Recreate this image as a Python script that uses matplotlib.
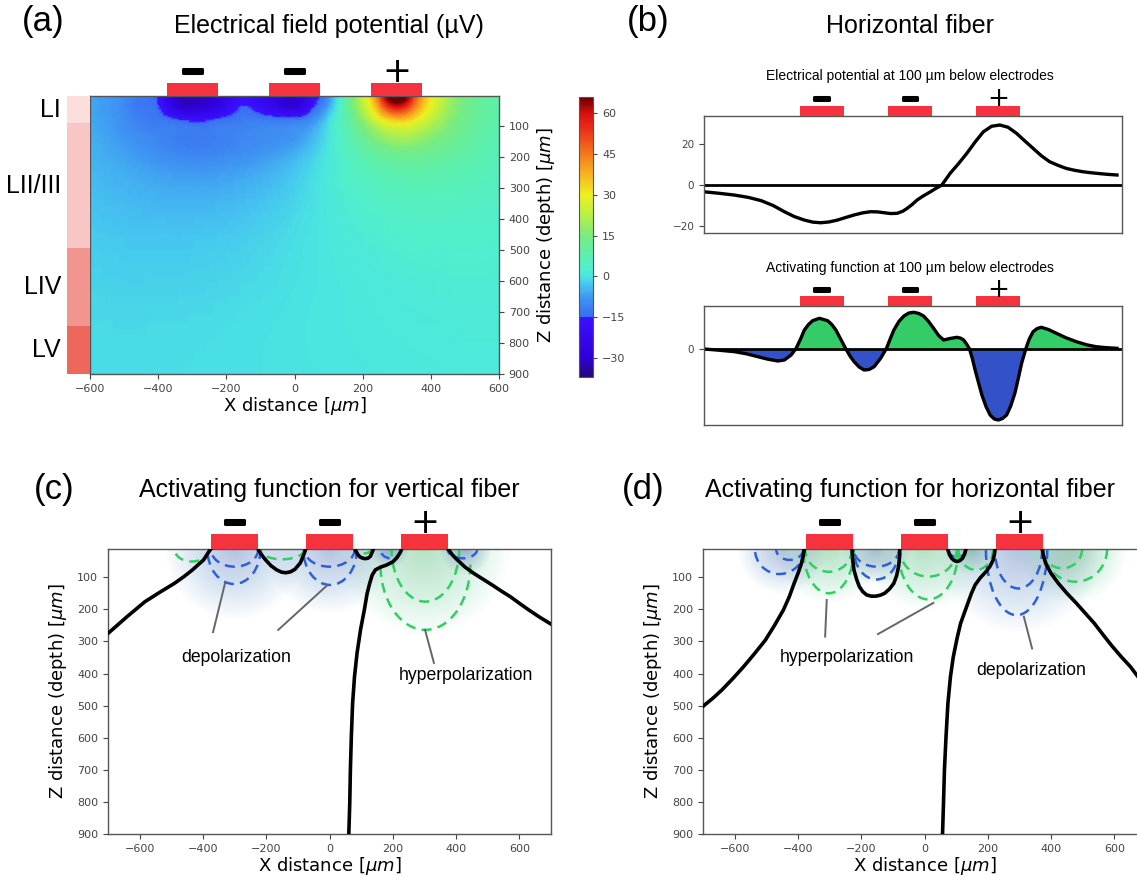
import matplotlib
matplotlib.use('Agg')
import matplotlib.pyplot as plt
import matplotlib.transforms as mtransforms
import matplotlib.patheffects as pe
import matplotlib.tri as mtri
from matplotlib.colors import LinearSegmentedColormap
from matplotlib.patches import Rectangle, Arc, Ellipse
import numpy as np

W, H = 1137, 877
RED = '#f5333f'
BLUE = '#2f5fd6'
GREEN = '#2fd060'
SANS = 'Liberation Sans'

# electrodes (um)
elec_x = [-300, 0, 300]
elec_sign = ['\u2212', '\u2212', '+']
elec_w = 150

# (a) potential field, uV (rows = depth, cols = x)
grid_x = [-600, -550, -500, -450, -400, -350, -300, -250, -200, -150, -100, -50, 0,
          50, 100, 150, 200, 250, 300, 350, 400, 450, 500, 550, 600]
grid_z = [0, 40, 80, 130, 200, 300, 450, 650, 900]
field_uv = [
    [-6.1, -7.6, -9.7, -13.1, -16.5, -30, -30, -30, -22.5, -18.5, -20.5, -27.7, -30,
     -20.3, -9.0, 9.2, 24.6, 50.3, 78.2, 53.3, 31.2, 20.3, 14.4, 10.8, 8.5],
    [-6.0, -7.4, -9.5, -12.7, -14.5, -26.9, -30, -28.0, -20.5, -14.5, -18.4, -23.6, -27.6,
     -16.4, -6.0, 8.8, 22.5, 42.2, 58.7, 45.2, 28.9, 19.5, 14.0, 10.6, 8.4],
    [-5.8, -7.1, -8.9, -11.5, -12.5, -14.5, -16.5, -15.8, -13.5, -12.0, -12.0, -13.0, -13.0,
     -9.5, -1.5, 7.7, 18.0, 29.4, 36.5, 32.2, 23.9, 17.4, 13.0, 10.1, 8.0],
    [-5.5, -6.5, -8.0, -9.5, -10.5, -11.5, -12.0, -11.8, -11.0, -10.0, -9.5, -9.0, -8.0,
     -5.0, 0.0, 6.2, 12.6, 18.4, 21.7, 20.9, 17.6, 14.1, 11.3, 9.1, 7.4],
    [-4.8, -5.6, -6.5, -7.5, -8.6, -9.5, -9.9, -9.8, -9.2, -8.5, -7.6, -6.4, -4.7,
     -2.2, 0.8, 4.2, 7.6, 10.3, 12.0, 12.3, 11.5, 10.1, 8.7, 7.4, 6.3],
    [-3.8, -4.3, -4.7, -5.2, -5.6, -5.8, -5.9, -5.8, -5.5, -4.9, -4.2, -3.3, -2.1,
     -0.7, 0.8, 2.5, 4.0, 5.3, 6.1, 6.6, 6.6, 6.3, 5.8, 5.3, 4.8],
    [-2.6, -2.8, -3.0, -3.1, -3.1, -3.2, -3.1, -2.9, -2.7, -2.4, -1.9, -1.4, -0.8,
     -0.2, 0.5, 1.2, 1.8, 2.3, 2.8, 3.1, 3.3, 3.3, 3.3, 3.2, 3.0],
    [-1.6, -1.6, -1.7, -1.7, -1.6, -1.6, -1.5, -1.4, -1.2, -1.0, -0.8, -0.6, -0.3,
     0.0, 0.2, 0.5, 0.8, 1.0, 1.2, 1.4, 1.5, 1.6, 1.7, 1.7, 1.7],
    [-0.9, -0.9, -0.9, -0.8, -0.8, -0.8, -0.7, -0.6, -0.5, -0.5, -0.4, -0.2, -0.1,
     0.0, 0.1, 0.2, 0.3, 0.4, 0.5, 0.6, 0.7, 0.8, 0.8, 0.9, 0.9],
]
cbar_ticks = [-30, -15, 0, 15, 30, 45, 60]

layer_names = ['LI', 'LII/III', 'LIV', 'LV']
layer_top = [5, 93, 494, 746]
layer_bottom = [93, 494, 746, 900]
layer_colors = ['#fcdedc', '#f8c6c4', '#f3958f', '#ee675d']

# (b) potential and activating function at 100 um depth
pot_x = [-699, -650, -596, -550, -506, -465, -427, -393, -359, -330, -303, -275, -247, -218,
         -190, -162, -134, -110, -89, -66, -44, -25, -10, 7, 24, 45, 69, 88, 108, 136, 165,
         193, 221, 249, 277, 305, 333, 362, 390, 418, 446, 474, 503, 531, 559, 587, 615, 643,
         673, 703]
pot_uv = [-3.3, -4.0, -4.9, -6.0, -7.6, -10.0, -13.0, -15.4, -17.1, -18.1, -18.4, -18.0, -17.1,
          -15.8, -14.6, -13.6, -13.0, -13.1, -13.5, -13.9, -13.8, -12.8, -11.4, -9.5, -7.3,
          -5.3, -3.3, -1.6, 0.0, 5.7, 10.5, 15.5, 21.0, 26.0, 28.7, 29.3, 28.2, 25.2, 21.5,
          17.9, 14.3, 11.4, 9.6, 8.1, 7.2, 6.5, 6.0, 5.6, 5.2, 4.9]
act_x = [-699, -650, -596, -556, -517, -483, -449, -427, -404, -387, -372, -359, -345, -331,
         -308, -280, -266, -252, -235, -218, -204, -190, -173, -156, -139, -122, -100, -80,
         -67, -55, -38, -21, -4, 13, 30, 46, 63, 80, 97, 114, 136, 159, 172, 182, 193, 202,
         212, 221, 232, 244, 258, 272, 286, 300, 314, 328, 342, 356, 368, 379, 393, 405, 418,
         432, 446, 470, 497, 530, 565, 600, 632, 668, 703]
act_val = [0, -1.2, -2.7, -4.8, -7.7, -10.2, -12, -11, -6, 0.7, 10, 19, 24.5, 28.3,
           30.7, 28.3, 24.5, 19, 9.5, 0, -7, -12.7, -18, -21, -20.5, -17.7, -9.3, 0.7,
           10.5, 19, 27.5, 33, 36, 36.7, 35.5, 33, 27.5, 20.7, 13.5, 9, 10.5, 11.7, 10.8, 9,
           4.5, 0, -10, -21, -33, -46, -57.5, -66, -70, -71, -69.5, -66, -57, -44.3, -29,
           -14.3, 0, 10, 17.3, 20.5, 21.7, 19.5, 15.7, 11.2, 7.3, 4.2, 2.3, 1.3, 0.7]

# (c) vertical fiber: zero contours [x], [z]
c_lines = [
    ([-700, -640, -583, -535, -490, -460, -433, -398, -381, -375],
     [275, 223, 176, 146, 119, 98, 77, 46, 20, 12]),
    ([-225, -213, -202, -185, -167, -152, -138, -123, -109, -92, -80, -75],
     [15, 32, 46, 64, 77, 84, 86, 83, 75, 55, 26, 12]),
    ([81, 90, 98, 110, 121, 129, 133, 139], [15, 30, 38, 42, 41, 35, 26, 12]),
    ([61, 64, 66, 69, 73, 79, 87, 98, 110, 119, 127, 135, 145, 160, 180, 200, 214, 225, 228],
     [900, 805, 701, 597, 493, 410, 337, 264, 202, 150, 119, 93, 77, 69, 62, 52, 38, 20, 12]),
    ([375, 388, 404, 428, 456, 485, 514, 543, 572, 600, 630, 665, 705],
     [12, 30, 46, 68, 88, 106, 124, 143, 161, 181, 202, 225, 249]),
]
# dashed level contours: centre x, centre z, half width, half height, colour
c_arcs = [
    (-302, 12, 84, 109, BLUE), (-300, 12, 75, 55, BLUE),
    (2, 12, 85, 112, BLUE), (0, 12, 80, 55, BLUE),
    (303, 12, 107, 164, GREEN), (303, 60, 142, 204, GREEN),
    (-435, 12, 55, 39, GREEN), (-150, 12, 72, 32, GREEN), (107, 12, 26, 14, GREEN),
    (193, 12, 32, 29, BLUE), (420, 12, 47, 29, BLUE),
]
c_glow = [(-300, 220, BLUE), (0, 200, BLUE), (300, 270, GREEN), (190, 60, BLUE), (430, 80, BLUE)]
c_notes = [('depolarization', -295, 349), ('hyperpolarization', 432, 405)]
c_pointers = [(-330, 118, -368, 271), (-6, 124, -162, 264), (302, 264, 330, 367)]

# (d) horizontal fiber
d_lines = [
    ([-701, -670, -640, -606, -572, -538, -503, -474, -446, -427, -412, -399, -389, -383, -380],
     [503, 478, 451, 416, 379, 339, 296, 250, 202, 160, 119, 86, 57, 32, 12]),
    ([-229, -227, -223, -215, -206, -195, -183, -168, -154, -140, -126, -111, -97, -88, -82, -79, -78],
     [12, 45, 77, 105, 129, 145, 155, 159, 159, 156, 150, 137, 119, 95, 67, 40, 12]),
    ([74, 79, 86, 94, 103, 112, 120, 127, 131], [15, 30, 41, 48, 51, 48, 41, 27, 12]),
    ([57, 60, 63, 68, 74, 82, 91, 103, 114, 126, 137, 148, 160, 176, 194, 207, 217, 221, 223],
     [900, 805, 701, 597, 493, 410, 348, 290, 244, 211, 181, 151, 124, 102, 83, 66, 46, 28, 12]),
    ([372, 376, 383, 400, 423, 450, 480, 508, 537, 565, 594, 622, 651, 676, 700],
     [12, 33, 57, 88, 119, 150, 181, 212, 244, 280, 316, 348, 379, 412, 445]),
]
d_arcs = [
    (-303, 12, 74, 71, GREEN), (-303, 12, 80, 138, GREEN),
    (-458, 12, 78, 78, BLUE), (-426, 12, 43, 34, BLUE),
    (-152, 12, 72, 55, BLUE), (-152, 12, 72, 95, BLUE),
    (12, 12, 90, 86, GREEN), (12, 12, 95, 157, GREEN),
    (103, 12, 28, 25, BLUE), (162, 12, 55, 65, GREEN),
    (297, 12, 75, 123, BLUE), (291, 12, 97, 206, BLUE),
    (435, 12, 63, 60, GREEN), (477, 12, 100, 102, GREEN),
]
d_glow = [(-450, 140, BLUE), (-300, 170, GREEN), (-150, 110, BLUE), (0, 190, GREEN),
          (150, 80, GREEN), (300, 260, BLUE), (470, 170, GREEN)]
d_notes = [('hyperpolarization', -246, 349), ('depolarization', 337, 392)]
d_pointers = [(-309, 171, -314, 285), (28, 180, -147, 277), (314, 223, 340, 322)]


def px_axes(fig, l, t, r, b):
    return fig.add_axes([l / W, 1 - b / H, (r - l) / W, (b - t) / H])


def style(ax):
    for s in ax.spines.values():
        s.set_color('#555555')
        s.set_linewidth(1)
    ax.tick_params(colors='#444444', labelsize=8, length=3.5, width=0.8)


def electrodes(ax, ax_h, h_px, sign_px, fs_minus, fs_plus):
    tr = mtransforms.blended_transform_factory(ax.transData, ax.transAxes)
    for x, s in zip(elec_x, elec_sign):
        ax.add_patch(Rectangle((x - elec_w / 2, 1), elec_w, h_px / ax_h, transform=tr,
                               facecolor=RED, edgecolor='none', clip_on=False, zorder=6))
        if s == '+':
            ax.text(x, 1 + sign_px / ax_h, s, transform=tr, ha='center', va='center',
                    fontsize=fs_plus, color='k', zorder=7, clip_on=False)
        else:
            ax.text(x, 1 + sign_px / ax_h, s, transform=tr, ha='center', va='center',
                    fontsize=fs_minus, fontweight='bold', color='k', zorder=7, clip_on=False,
                    path_effects=[pe.withStroke(linewidth=2.2, foreground='k')])


def fiber_panel(ax, lines, arcs, glow, notes, pointers):
    for cx, r, col in glow:
        for k in range(30):
            rr = r * (1 - k / 30)
            ax.add_patch(Ellipse((cx, 12), 2 * rr, 2 * rr, facecolor=col, edgecolor='none',
                                 alpha=0.011, zorder=1))
    for cx, cz, rx, rz, col in arcs:
        ax.add_patch(Arc((cx, cz), 2 * rx, 2 * rz, theta1=0, theta2=180, color=col, lw=1.8,
                         ls=(0, (4, 2.5)), zorder=2))
    for xs, zs in lines:
        ax.plot(xs, zs, color='k', lw=2.6, zorder=3, solid_capstyle='round',
                solid_joinstyle='round')
    for x0, z0, x1, z1 in pointers:
        ax.plot([x0, x1], [z0, z1], color='#666666', lw=1.4, zorder=3)
    for label, x, z in notes:
        ax.text(x, z, label, ha='center', va='center', fontsize=12.7, family=SANS, zorder=4)
    ax.set_xlim(-700, 700)
    ax.set_ylim(900, 12)
    ax.set_xticks(range(-600, 601, 200))
    ax.set_yticks(range(100, 901, 100))
    ax.set_xlabel('X distance [$\\mu m$]', fontsize=13, labelpad=1)
    ax.set_ylabel('Z distance (depth) [$\\mu m$]', fontsize=13, labelpad=6)
    style(ax)
    electrodes(ax, 285, 15, 26, 22, 25)


fig = plt.figure(figsize=(W / 100, H / 100), dpi=100)

# ---- (a) field map
vmin, vmax = -37, 66
cm_vals = [-37, -30, -15.2, -14.8, -8, -3, 0, 3, 8, 15, 22, 30, 38, 45, 55, 60, 66]
cm_cols = ['#24087a', '#3000d8', '#3a10ff', '#3a6cf2', '#3f95f2', '#46c6f0', '#4ae6e0',
           '#52efcc', '#5cf0ae', '#78ec80', '#b4f048', '#eef020', '#f8b020', '#f57a1e',
           '#ea2a18', '#d81010', '#6a0000']
cmap = LinearSegmentedColormap.from_list(
    'field', [((v - vmin) / (vmax - vmin), c) for v, c in zip(cm_vals, cm_cols)])

ax_a = px_axes(fig, 90, 96, 499, 374)
gx, gz = np.meshgrid(grid_x, grid_z)
tri = mtri.Triangulation(gx.ravel(), gz.ravel())
tri_fine, field_fine = mtri.UniformTriRefiner(tri).refine_field(
    np.array(field_uv).ravel(), subdiv=3)
mesh = ax_a.tripcolor(tri_fine, field_fine, shading='gouraud', cmap=cmap,
                      vmin=vmin, vmax=vmax, rasterized=True)
ax_a.set_xlim(-600, 600)
ax_a.set_ylim(900, 5)
ax_a.yaxis.tick_right()
ax_a.yaxis.set_label_position('right')
ax_a.set_xticks(range(-600, 601, 200))
ax_a.set_yticks(range(100, 901, 100))
ax_a.set_xlabel('X distance [$\\mu m$]', fontsize=13, labelpad=1)
ax_a.set_ylabel('Z distance (depth) [$\\mu m$]', fontsize=13, labelpad=4)
style(ax_a)
electrodes(ax_a, 278, 13, 24, 22, 25)

ax_l = px_axes(fig, 67, 96, 90, 374)
ax_l.bar(0.5, [b - t for t, b in zip(layer_top, layer_bottom)], bottom=layer_top, width=1,
         color=layer_colors)
ax_l.set_xlim(0, 1)
ax_l.set_ylim(900, 5)
ax_l.axis('off')
for name, t, b in zip(layer_names, layer_top, layer_bottom):
    ax_l.text(-0.26, (t + b) / 2, name, ha='right', va='center', fontsize=18, family=SANS)

cax = px_axes(fig, 579, 97, 593, 377)
cb = fig.colorbar(mesh, cax=cax, ticks=cbar_ticks)
cb.outline.set_edgecolor('#555555')
cax.tick_params(colors='#444444', labelsize=8, length=3, width=0.8)

# ---- (b) horizontal fiber profiles
ax_b1 = px_axes(fig, 704, 116, 1122, 233)
ax_b1.axhline(0, color='k', lw=2)
ax_b1.plot(pot_x, pot_uv, color='k', lw=2.4, solid_joinstyle='round')
ax_b1.set_xlim(-700, 720)
ax_b1.set_ylim(-23.4, 33.7)
ax_b1.set_xticks([])
ax_b1.set_yticks([-20, 0, 20])
style(ax_b1)
ax_b1.tick_params(labelsize=7.5)
electrodes(ax_b1, 117, 10, 17, 17, 19)

ax_b2 = px_axes(fig, 704, 306, 1122, 425)
act = np.array(act_val)
ax_b2.fill_between(act_x, act, 0, where=act >= 0, interpolate=True, color='#33cc66', lw=0)
ax_b2.fill_between(act_x, act, 0, where=act <= 0, interpolate=True, color='#3352c8', lw=0)
ax_b2.axhline(0, color='k', lw=2)
ax_b2.plot(act_x, act, color='k', lw=2.4, solid_joinstyle='round')
ax_b2.set_xlim(-700, 720)
ax_b2.set_ylim(-76, 43)
ax_b2.set_xticks([])
ax_b2.set_yticks([0])
style(ax_b2)
ax_b2.tick_params(labelsize=7.5)
electrodes(ax_b2, 119, 10, 16, 17, 19)

# ---- (c), (d)
ax_c = px_axes(fig, 108, 549, 551, 834)
fiber_panel(ax_c, c_lines, c_arcs, c_glow, c_notes, c_pointers)
ax_d = px_axes(fig, 703, 549, 1146, 834)
fiber_panel(ax_d, d_lines, d_arcs, d_glow, d_notes, d_pointers)

# ---- titles and panel letters
for x, y, s in [(43, 22, '(a)'), (648, 22, '(b)'), (54, 490, '(c)'), (643, 490, '(d)')]:
    fig.text(x / W, 1 - y / H, s, ha='center', va='center', fontsize=25, family=SANS)
for x, y, s, fs in [(329, 26, 'Electrical field potential (\u00b5V)', 18),
                    (910, 26, 'Horizontal fiber', 18),
                    (910, 76, 'Electrical potential at 100 \u00b5m below electrodes', 10),
                    (910, 268, 'Activating function at 100 \u00b5m below electrodes', 10),
                    (329, 490, 'Activating function for vertical fiber', 18),
                    (910, 490, 'Activating function for horizontal fiber', 18)]:
    fig.text(x / W, 1 - y / H, s, ha='center', va='center', fontsize=fs, family=SANS)

fig.savefig('out.png', dpi=100)
